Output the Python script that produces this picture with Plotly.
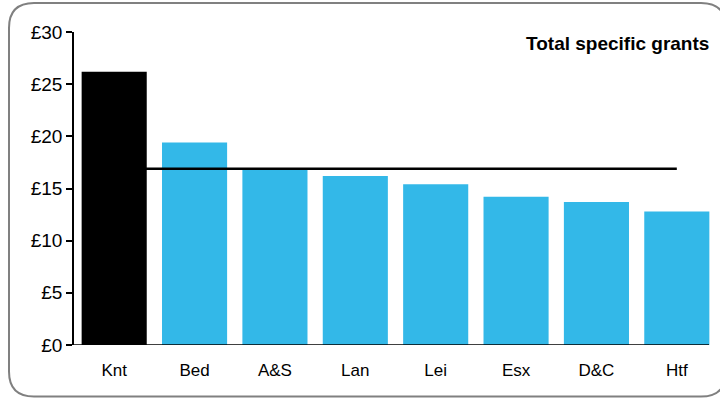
import plotly.graph_objects as go

categories = ["Knt", "Bed", "A&S", "Lan", "Lei", "Esx", "D&C", "Htf"]
values = [26.2, 19.4, 16.9, 16.2, 15.4, 14.2, 13.7, 12.8]
average = [16.9] * len(categories)
bar_colors = ["#000000"] + ["#33B8E8"] * (len(categories) - 1)
y_ticks = [0, 5, 10, 15, 20, 25, 30]
y_tick_labels = ["£0", "£5", "£10", "£15", "£20", "£25", "£30"]
title_text = "Total specific grants"

W, H = 720, 398
L, R, T, B = 74, 3, 32, 53
pw, ph = W - L - R, H - T - B

def px(x):
    return (x - L) / pw

def py(y):
    return (H - B - y) / ph

fig = go.Figure()
fig.add_trace(go.Bar(x=categories, y=values, marker=dict(color=bar_colors, line=dict(width=0)),
                     showlegend=False))
fig.add_trace(go.Scatter(x=categories, y=average, mode="lines",
                         line=dict(color="#000000", width=2.5), showlegend=False))

# rounded border (right edge lies just off-canvas as in the reference)
x0, x1, y0, y1 = px(9), px(726), py(396.5), py(3)
rx, ry = 25 / pw, 25 / ph
path = (f"M {x0+rx},{y1} L {x1-rx},{y1} Q {x1},{y1} {x1},{y1-ry} "
        f"L {x1},{y0+ry} Q {x1},{y0} {x1-rx},{y0} "
        f"L {x0+rx},{y0} Q {x0},{y0} {x0},{y0+ry} "
        f"L {x0},{y1-ry} Q {x0},{y1} {x0+rx},{y1} Z")

fig.update_layout(
    width=W, height=H,
    margin=dict(l=L, r=R, t=T, b=B),
    paper_bgcolor="white", plot_bgcolor="white",
    bargap=0.19,
    font=dict(family="Liberation Sans, Arial, sans-serif", color="#000000"),
    shapes=[
        dict(type="path", xref="paper", yref="paper", path=path,
             line=dict(color="#808080", width=2), layer="below"),
        dict(type="line", xref="paper", yref="y", x0=0, x1=px(709), y0=0, y1=0,
             line=dict(color="#000000", width=1.5), layer="above"),
    ],
    annotations=[dict(text=f"<b>{title_text}</b>", xref="paper", yref="paper",
                      x=px(711), y=py(43), xanchor="right", yanchor="middle",
                      showarrow=False, font=dict(size=19, color="#000000"))],
)
fig.update_xaxes(showline=False, ticks="",
                 tickfont=dict(size=17), showgrid=False, zeroline=False,
                 ticklabelstandoff=13,
                 range=[-0.5, len(categories) - 0.5])
fig.update_yaxes(range=[0, 30], tickvals=y_ticks, ticktext=y_tick_labels,
                 showline=True, linecolor="#000000", linewidth=1.5,
                 ticks="outside", ticklen=6, tickcolor="#000000", tickwidth=1.5,
                 tickfont=dict(size=19), showgrid=False, zeroline=False)

fig.write_html("out.html", config={"displayModeBar": False},
               post_script="document.body.style.margin='0px';document.body.style.overflow='hidden';")
